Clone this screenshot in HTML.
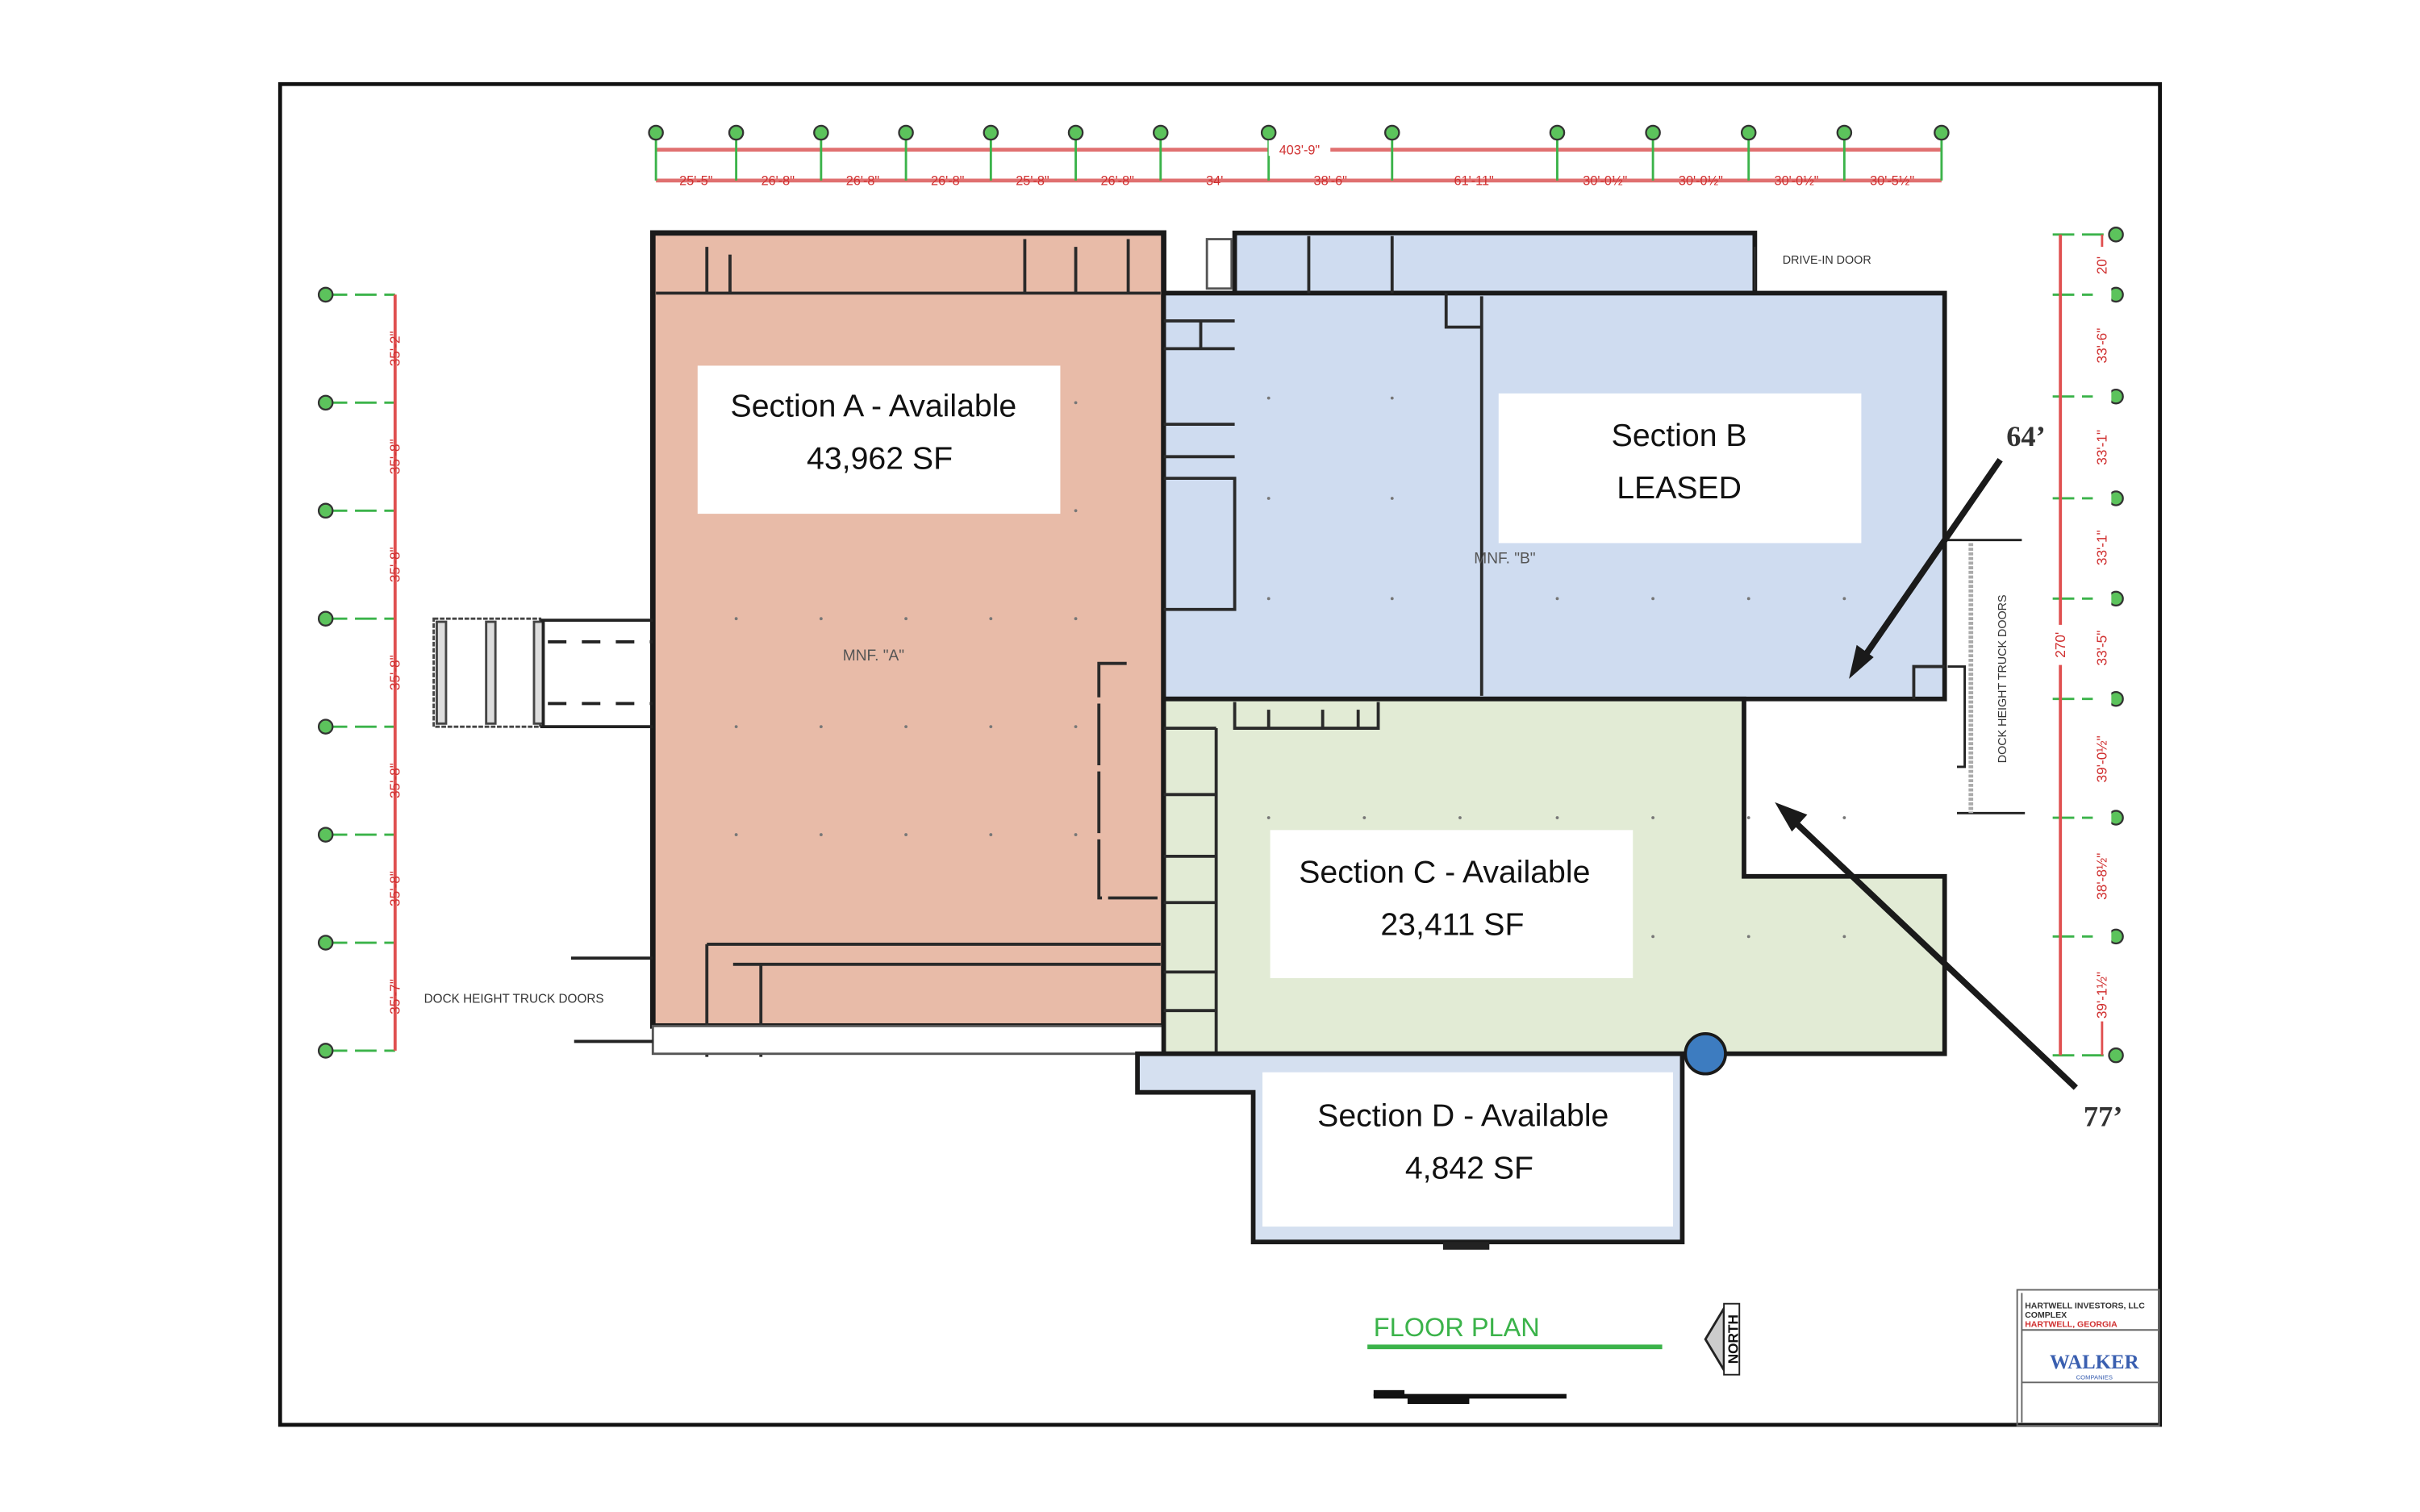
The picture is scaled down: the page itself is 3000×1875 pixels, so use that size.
<!DOCTYPE html>
<html><head><meta charset="utf-8"><style>
html,body{margin:0;padding:0;background:#fff;}
svg{display:block;}
text{font-family:"Liberation Sans",sans-serif;}
</style></head><body>
<svg width="3000" height="1875" viewBox="0 0 1568 980" preserveAspectRatio="none" xmlns="http://www.w3.org/2000/svg">
<rect x="0" y="0" width="1568" height="980" fill="#fff"/>
<rect x="181.5" y="54.5" width="1218" height="869" fill="none" stroke="#111" stroke-width="2.5"/>

<!-- top dimension -->
<g stroke="#e07070" stroke-width="2.5" fill="none">
<line x1="425" y1="97" x2="1258" y2="97"/>
<line x1="425" y1="117" x2="1258" y2="117"/>
</g>
<g stroke="#3bb34a" stroke-width="1.5">
<line x1="425" y1="86" x2="425" y2="117"/><line x1="477" y1="86" x2="477" y2="117"/><line x1="532" y1="86" x2="532" y2="117"/><line x1="587" y1="86" x2="587" y2="117"/><line x1="642" y1="86" x2="642" y2="117"/><line x1="697" y1="86" x2="697" y2="117"/><line x1="752" y1="86" x2="752" y2="117"/><line x1="822" y1="86" x2="822" y2="117"/><line x1="902" y1="86" x2="902" y2="117"/><line x1="1009" y1="86" x2="1009" y2="117"/><line x1="1071" y1="86" x2="1071" y2="117"/><line x1="1133" y1="86" x2="1133" y2="117"/><line x1="1195" y1="86" x2="1195" y2="117"/><line x1="1258" y1="86" x2="1258" y2="117"/>
</g>
<g fill="#5cc35c" stroke="#333" stroke-width="1.2">
<circle cx="425" cy="86" r="4.5"/><circle cx="477" cy="86" r="4.5"/><circle cx="532" cy="86" r="4.5"/><circle cx="587" cy="86" r="4.5"/><circle cx="642" cy="86" r="4.5"/><circle cx="697" cy="86" r="4.5"/><circle cx="752" cy="86" r="4.5"/><circle cx="822" cy="86" r="4.5"/><circle cx="902" cy="86" r="4.5"/><circle cx="1009" cy="86" r="4.5"/><circle cx="1071" cy="86" r="4.5"/><circle cx="1133" cy="86" r="4.5"/><circle cx="1195" cy="86" r="4.5"/><circle cx="1258" cy="86" r="4.5"/>
</g>
<g fill="#d03030" font-size="8.5" text-anchor="middle">
<rect x="822" y="91" width="40" height="10" fill="#fff"/>
<text x="842" y="100">403'-9"</text>
<text x="451" y="120">25'-5"</text><text x="504" y="120">26'-8"</text><text x="559" y="120">26'-8"</text><text x="614" y="120">26'-8"</text><text x="669" y="120">25'-8"</text><text x="724" y="120">26'-8"</text><text x="787" y="120">34'</text><text x="862" y="120">38'-6"</text><text x="955" y="120">61'-11"</text><text x="1040" y="120">30'-0½"</text><text x="1102" y="120">30'-0½"</text><text x="1164" y="120">30'-0½"</text><text x="1226" y="120">30'-5½"</text>
</g>

<!-- left dimension -->
<g stroke="#3bb34a" stroke-width="1.5" stroke-dasharray="14,5">
<line x1="211" y1="191" x2="256" y2="191"/><line x1="211" y1="261" x2="256" y2="261"/><line x1="211" y1="331" x2="256" y2="331"/><line x1="211" y1="401" x2="256" y2="401"/><line x1="211" y1="471" x2="256" y2="471"/><line x1="211" y1="541" x2="256" y2="541"/><line x1="211" y1="611" x2="256" y2="611"/><line x1="211" y1="681" x2="256" y2="681"/>
</g>
<line x1="256" y1="191" x2="256" y2="681" stroke="#e05050" stroke-width="2"/>
<g fill="#5cc35c" stroke="#333" stroke-width="1.2">
<circle cx="211" cy="191" r="4.5"/><circle cx="211" cy="261" r="4.5"/><circle cx="211" cy="331" r="4.5"/><circle cx="211" cy="401" r="4.5"/><circle cx="211" cy="471" r="4.5"/><circle cx="211" cy="541" r="4.5"/><circle cx="211" cy="611" r="4.5"/><circle cx="211" cy="681" r="4.5"/>
</g>
<g fill="#d03030" font-size="9" text-anchor="middle">
<text transform="translate(259,226) rotate(-90)">35'-2"</text><text transform="translate(259,296) rotate(-90)">35'-8"</text><text transform="translate(259,366) rotate(-90)">35'-8"</text><text transform="translate(259,436) rotate(-90)">35'-8"</text><text transform="translate(259,506) rotate(-90)">35'-8"</text><text transform="translate(259,576) rotate(-90)">35'-8"</text><text transform="translate(259,646) rotate(-90)">35'-7"</text>
</g>

<!-- right dimension -->
<g stroke="#3bb34a" stroke-width="1.5" stroke-dasharray="14,5">
<line x1="1330" y1="152" x2="1371" y2="152"/><line x1="1330" y1="191" x2="1371" y2="191"/><line x1="1330" y1="257" x2="1371" y2="257"/><line x1="1330" y1="323" x2="1371" y2="323"/><line x1="1330" y1="388" x2="1371" y2="388"/><line x1="1330" y1="453" x2="1371" y2="453"/><line x1="1330" y1="530" x2="1371" y2="530"/><line x1="1330" y1="607" x2="1371" y2="607"/><line x1="1330" y1="684" x2="1371" y2="684"/>
</g>
<line x1="1335" y1="152" x2="1335" y2="684" stroke="#e05050" stroke-width="2"/>
<line x1="1362" y1="152" x2="1362" y2="684" stroke="#e05050" stroke-width="1.5"/>
<g fill="#5cc35c" stroke="#333" stroke-width="1.2">
<circle cx="1371" cy="152" r="4.5"/><circle cx="1371" cy="191" r="4.5"/><circle cx="1371" cy="257" r="4.5"/><circle cx="1371" cy="323" r="4.5"/><circle cx="1371" cy="388" r="4.5"/><circle cx="1371" cy="453" r="4.5"/><circle cx="1371" cy="530" r="4.5"/><circle cx="1371" cy="607" r="4.5"/><circle cx="1371" cy="684" r="4.5"/>
</g>
<g fill="#d03030" font-size="9" text-anchor="middle">
<rect x="1356" y="160" width="12" height="502" fill="#fff"/>
<text transform="translate(1365,172) rotate(-90)">20'</text><text transform="translate(1365,224) rotate(-90)">33'-6"</text><text transform="translate(1365,290) rotate(-90)">33'-1"</text><text transform="translate(1365,355) rotate(-90)">33'-1"</text><text transform="translate(1365,420) rotate(-90)">33'-5"</text><text transform="translate(1365,492) rotate(-90)">39'-0½"</text><text transform="translate(1365,568) rotate(-90)">38'-8½"</text><text transform="translate(1365,645) rotate(-90)">39'-1½"</text>
<rect x="1329" y="405" width="12" height="26" fill="#fff"/>
<text transform="translate(1338,418) rotate(-90)">270'</text>
</g>

<!-- Section A -->
<rect x="423" y="151" width="331" height="514" fill="#e8bba8" stroke="#1a1a1a" stroke-width="3.5"/>
<g stroke="#2a2a2a" stroke-width="2" fill="none">
<line x1="425" y1="190" x2="752" y2="190"/>
<line x1="458" y1="160" x2="458" y2="190"/><line x1="473" y1="165" x2="473" y2="190"/><line x1="664" y1="155" x2="664" y2="190"/><line x1="697" y1="160" x2="697" y2="190"/><line x1="731" y1="155" x2="731" y2="190"/>
<line x1="458" y1="612" x2="752" y2="612"/><line x1="475" y1="625" x2="752" y2="625"/>
<line x1="458" y1="612" x2="458" y2="685"/><line x1="493" y1="625" x2="493" y2="685"/>
<polyline points="730,430 712,430 712,582 750,582" stroke-dasharray="40,4"/>
</g>
<rect x="423" y="665" width="331" height="18" fill="#fff" stroke="#555" stroke-width="1.5"/>
<line x1="370" y1="621" x2="423" y2="621" stroke="#222" stroke-width="2"/>
<line x1="372" y1="675" x2="423" y2="675" stroke="#222" stroke-width="2"/>
<!-- left dock -->
<g fill="none" stroke="#444" stroke-width="1.5">
<rect x="281" y="401" width="69" height="70" stroke-dasharray="3,1"/>
<rect x="283" y="403" width="6" height="66" fill="#ddd"/>
<rect x="315" y="403" width="6" height="66" fill="#ddd"/>
<rect x="346" y="403" width="6" height="66" fill="#ddd"/>
</g>
<g stroke="#222" stroke-width="2" fill="none">
<line x1="350" y1="402" x2="423" y2="402"/><line x1="350" y1="471" x2="423" y2="471"/><line x1="352" y1="402" x2="352" y2="471"/>
<line x1="355" y1="416" x2="423" y2="416" stroke-dasharray="12,10"/><line x1="355" y1="456" x2="423" y2="456" stroke-dasharray="12,10"/>
</g>
<text x="333" y="650" font-size="8" fill="#333" text-anchor="middle">DOCK HEIGHT TRUCK DOORS</text>
<text x="566" y="428" font-size="10" fill="#555" text-anchor="middle">MNF. "A"</text>
<g fill="#777">
<circle cx="477" cy="401" r="1"/><circle cx="532" cy="401" r="1"/><circle cx="587" cy="401" r="1"/><circle cx="642" cy="401" r="1"/><circle cx="697" cy="401" r="1"/>
<circle cx="477" cy="471" r="1"/><circle cx="532" cy="471" r="1"/><circle cx="587" cy="471" r="1"/><circle cx="642" cy="471" r="1"/><circle cx="697" cy="471" r="1"/>
<circle cx="477" cy="541" r="1"/><circle cx="532" cy="541" r="1"/><circle cx="587" cy="541" r="1"/><circle cx="642" cy="541" r="1"/><circle cx="697" cy="541" r="1"/>
<circle cx="697" cy="261" r="1"/><circle cx="697" cy="331" r="1"/>
</g>

<!-- Section B -->
<rect x="800" y="151" width="337" height="39" fill="#cfdcf0" stroke="#1a1a1a" stroke-width="3"/>
<polygon points="754,190 1260,190 1260,453 754,453" fill="#cfdcf0" stroke="#1a1a1a" stroke-width="3"/>
<rect x="782" y="155" width="16" height="32" fill="#fff" stroke="#555" stroke-width="1.5"/>
<g stroke="#2a2a2a" stroke-width="2" fill="none">
<line x1="960" y1="192" x2="960" y2="451"/>
<line x1="848" y1="153" x2="848" y2="190"/><line x1="902" y1="153" x2="902" y2="190"/>
<polyline points="937,190 937,212 960,212"/>
<line x1="754" y1="208" x2="800" y2="208"/><line x1="754" y1="226" x2="800" y2="226"/>
<line x1="754" y1="275" x2="800" y2="275"/><line x1="754" y1="296" x2="800" y2="296"/>
<polyline points="754,310 800,310 800,395 754,395"/>
<line x1="778" y1="208" x2="778" y2="226"/>
<polyline points="1240,453 1240,432 1260,432"/>
</g>
<line x1="1137" y1="160" x2="1137" y2="188" stroke="#333" stroke-width="1"/>
<text x="1155" y="171" font-size="7.5" fill="#333">DRIVE-IN DOOR</text>
<text x="975" y="365" font-size="10" fill="#555" text-anchor="middle">MNF. "B"</text>
<g fill="#777">
<circle cx="822" cy="258" r="1"/><circle cx="902" cy="258" r="1"/><circle cx="822" cy="323" r="1"/><circle cx="902" cy="323" r="1"/><circle cx="822" cy="388" r="1"/><circle cx="902" cy="388" r="1"/>
<circle cx="1009" cy="388" r="1"/><circle cx="1071" cy="388" r="1"/><circle cx="1133" cy="388" r="1"/><circle cx="1195" cy="388" r="1"/>
</g>
<!-- right dock -->
<g stroke="#222" stroke-width="1.5" fill="none">
<line x1="1262" y1="350" x2="1310" y2="350"/><line x1="1268" y1="527" x2="1312" y2="527"/>
<line x1="1277" y1="352" x2="1277" y2="527" stroke="#aaa" stroke-width="3" stroke-dasharray="2,1"/>
<polyline points="1262,432 1273,432 1273,497 1268,497"/>
</g>
<text transform="translate(1300,440) rotate(-90)" font-size="7.5" fill="#333" text-anchor="middle">DOCK HEIGHT TRUCK DOORS</text>

<!-- Section C -->
<polygon points="754,453 1130,453 1130,568 1260,568 1260,683 754,683" fill="#e2ebd5" stroke="#1a1a1a" stroke-width="3"/>
<g stroke="#2a2a2a" stroke-width="2" fill="none">
<line x1="788" y1="472" x2="788" y2="683"/>
<line x1="754" y1="472" x2="788" y2="472"/><line x1="754" y1="515" x2="788" y2="515"/><line x1="754" y1="555" x2="788" y2="555"/><line x1="754" y1="585" x2="788" y2="585"/><line x1="754" y1="630" x2="788" y2="630"/><line x1="754" y1="655" x2="788" y2="655"/>
<polyline points="800,455 800,472 893,472 893,455"/>
<line x1="822" y1="460" x2="822" y2="472"/><line x1="857" y1="460" x2="857" y2="472"/><line x1="880" y1="460" x2="880" y2="472"/>
</g>
<g fill="#777">
<circle cx="822" cy="530" r="1"/><circle cx="884" cy="530" r="1"/><circle cx="946" cy="530" r="1"/><circle cx="1009" cy="530" r="1"/><circle cx="1071" cy="530" r="1"/><circle cx="1133" cy="530" r="1"/><circle cx="1195" cy="530" r="1"/>
<circle cx="1071" cy="607" r="1"/><circle cx="1133" cy="607" r="1"/><circle cx="1195" cy="607" r="1"/>
</g>

<!-- Section D -->
<polygon points="737,683 1090,683 1090,805 812,805 812,708 737,708" fill="#d5e0f0" stroke="#1a1a1a" stroke-width="3"/>
<rect x="818" y="695" width="266" height="100" fill="#fff"/>
<rect x="935" y="805" width="30" height="5" fill="#222"/>
<circle cx="1105" cy="683" r="13" fill="#3d7cc0" stroke="#1a1a1a" stroke-width="2"/>

<!-- label boxes -->
<rect x="452" y="237" width="235" height="96" fill="#fff"/>
<rect x="971" y="255" width="235" height="97" fill="#fff"/>
<rect x="823" y="538" width="235" height="96" fill="#fff"/>
<g font-size="20.5" fill="#111" text-anchor="middle">
<text x="566" y="270">Section A - Available</text>
<text x="570" y="304">43,962 SF</text>
<text x="1088" y="289">Section B</text>
<text x="1088" y="323">LEASED</text>
<text x="936" y="572">Section C - Available</text>
<text x="941" y="606">23,411 SF</text>
<text x="948" y="730">Section D - Available</text>
<text x="952" y="764">4,842 SF</text>
</g>

<!-- arrows -->
<g stroke="#1a1a1a" stroke-width="4" fill="#1a1a1a">
<line x1="1296" y1="298" x2="1207" y2="427"/>
<line x1="1345" y1="705" x2="1160" y2="530"/>
</g>
<polygon points="1198,440 1203,418 1214,426" fill="#1a1a1a"/>
<polygon points="1150,520 1171,528 1161,539" fill="#1a1a1a"/>
<g font-family="Liberation Serif,serif" font-weight="bold" font-size="19" fill="#333">
<text x="1300" y="289" style="font-family:'Liberation Serif',serif">64’</text>
<text x="1350" y="730" style="font-family:'Liberation Serif',serif">77’</text>
</g>

<!-- floor plan title -->
<text x="890" y="866" font-size="17" fill="#3bb34a">FLOOR PLAN</text>
<line x1="886" y1="873" x2="1077" y2="873" stroke="#3bb34a" stroke-width="3"/>
<g stroke="#111" stroke-width="3"><line x1="890" y1="905" x2="1015" y2="905"/></g>
<rect x="890" y="901" width="20" height="4" fill="#111"/><rect x="912" y="906" width="40" height="4" fill="#111"/>
<polygon points="1117,848 1105,868 1117,888" fill="#ccc" stroke="#222" stroke-width="1.5"/>
<rect x="1117" y="845" width="10" height="46" fill="#fff" stroke="#222" stroke-width="1"/>
<text transform="translate(1126,868) rotate(-90)" font-size="9" font-weight="bold" fill="#111" text-anchor="middle">NORTH</text>

<!-- title block -->
<g stroke="#666" stroke-width="1" fill="none">
<rect x="1307" y="836" width="92" height="88"/>
<line x1="1310" y1="862" x2="1399" y2="862"/><line x1="1310" y1="896" x2="1399" y2="896"/>
<line x1="1310" y1="838" x2="1310" y2="922"/>
</g>
<g font-size="5.5" font-weight="bold">
<text x="1312" y="848" fill="#333">HARTWELL INVESTORS, LLC</text>
<text x="1312" y="854" fill="#333">COMPLEX</text>
<text x="1312" y="860" fill="#d03030">HARTWELL, GEORGIA</text>
</g>
<text x="1357" y="887" font-size="13" font-weight="bold" fill="#3a5fb0" text-anchor="middle" style="font-family:'Liberation Serif',serif">WALKER</text>
<text x="1357" y="894" font-size="4" fill="#3a5fb0" text-anchor="middle">COMPANIES</text>
</svg>
</body></html>
